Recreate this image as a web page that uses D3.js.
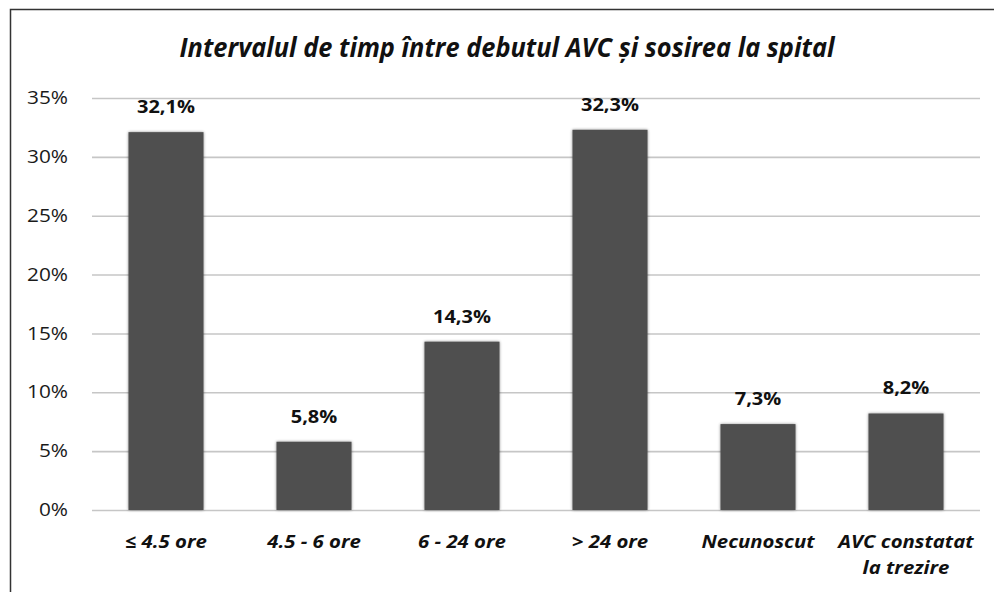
<!DOCTYPE html>
<html>
<head>
<meta charset="utf-8">
<script src="https://cdn.jsdelivr.net/npm/d3@7"></script>
<style>
  html, body { margin: 0; padding: 0; background: #fff; }
  svg { display: block; font-family: "Open Sans", sans-serif; }
</style>
</head>
<body>
<svg id="chart" width="994" height="592"></svg>
<script>
const title = "Intervalul de timp între debutul AVC și sosirea la spital";
const categories = ["≤ 4.5 ore", "4.5 - 6 ore", "6 - 24 ore", "> 24 ore", "Necunoscut", "AVC constatat\nla trezire"];
const values = [32.1, 5.8, 14.3, 32.3, 7.3, 8.2];
const valueLabels = ["32,1%", "5,8%", "14,3%", "32,3%", "7,3%", "8,2%"];
const yTicks = [0, 5, 10, 15, 20, 25, 30, 35];

const svg = d3.select("#chart");
const W = 994, H = 592;
const m = { left: 92, right: 14, top: 98, bottom: 82 };

// set font size, then condense glyphs horizontally so refNode reaches target width
function condense(sel, size, refNode, target, leafSel) {
  sel.attr("font-size", size);
  const k = target / refNode.getComputedTextLength();
  const leaves = leafSel ? sel.selectAll(leafSel) : sel;
  leaves.each(function() {
    const w = this.getComputedTextLength();
    d3.select(this).attr("textLength", w * k).attr("lengthAdjust", "spacingAndGlyphs");
  });
}

svg.append("rect").attr("x", 10.5).attr("y", 9.5).attr("width", 1000).attr("height", 700)
  .attr("fill", "none").attr("stroke", "#333").attr("stroke-width", 1.5);

const x = d3.scaleBand().domain(categories).range([m.left, W - m.right]).paddingInner(0.493).paddingOuter(0.2465);
const y = d3.scaleLinear().domain([0, 35]).range([H - m.bottom, m.top]);

const defs = svg.append("defs");
const f = defs.append("filter").attr("id", "shadow").attr("x", "-20%").attr("y", "-20%").attr("width", "140%").attr("height", "140%");
f.append("feGaussianBlur").attr("in", "SourceAlpha").attr("stdDeviation", 1.6).attr("result", "b");
f.append("feComponentTransfer").attr("in", "b").attr("result", "s").append("feFuncA").attr("type", "linear").attr("slope", 0.45);
const mg = f.append("feMerge");
mg.append("feMergeNode").attr("in", "s");
mg.append("feMergeNode").attr("in", "SourceGraphic");

const yAxis = d3.axisLeft(y).tickValues(yTicks).tickFormat(d => d + "%").tickSize(-(W - m.left - m.right)).tickPadding(24);
const gy = svg.append("g").attr("transform", `translate(${m.left},0)`).call(yAxis);
gy.select(".domain").remove();
gy.selectAll(".tick line").attr("stroke", "#c6c6c6").attr("stroke-width", 1.6);
const yt = gy.selectAll(".tick text").attr("fill", "#1a1a1a").attr("font-family", "\"Open Sans\", sans-serif");
condense(yt, 17.8, yt.nodes()[yt.nodes().length - 1], 41);

svg.append("g").selectAll("rect").data(values).join("rect")
  .attr("x", (d, i) => x(categories[i]))
  .attr("width", x.bandwidth())
  .attr("y", d => y(d))
  .attr("height", d => y(0) - y(d))
  .attr("fill", "#505050")
  .attr("filter", "url(#shadow)");

const vl = svg.append("g").selectAll("text").data(values).join("text")
  .attr("x", (d, i) => x(categories[i]) + x.bandwidth() / 2)
  .attr("y", d => y(d) - 19)
  .attr("text-anchor", "middle")
  .attr("font-weight", "bold").attr("fill", "#111")
  .text((d, i) => valueLabels[i]);
condense(vl, 18.2, vl.nodes()[0], 58);

const xl = svg.append("g").selectAll("text").data(categories).join("text")
  .attr("x", d => x(d) + x.bandwidth() / 2)
  .attr("y", H - m.bottom + 38)
  .attr("text-anchor", "middle")
  .attr("font-weight", "bold").attr("font-style", "italic").attr("fill", "#111");
xl.each(function(d) {
  const t = d3.select(this);
  d.split("\n").forEach((ln, k) => t.append("tspan").attr("x", x(d) + x.bandwidth() / 2).attr("dy", k === 0 ? 0 : 26).text(ln));
});
condense(xl, 18, xl.nodes()[4], 113, "tspan");

const tt = svg.append("text").attr("x", 507).attr("y", 57).attr("text-anchor", "middle")
  .attr("font-weight", "bold").attr("font-style", "italic").attr("fill", "#111")
  .text(title);
condense(tt, 26.5, tt.node(), 655);
</script>
</body>
</html>
